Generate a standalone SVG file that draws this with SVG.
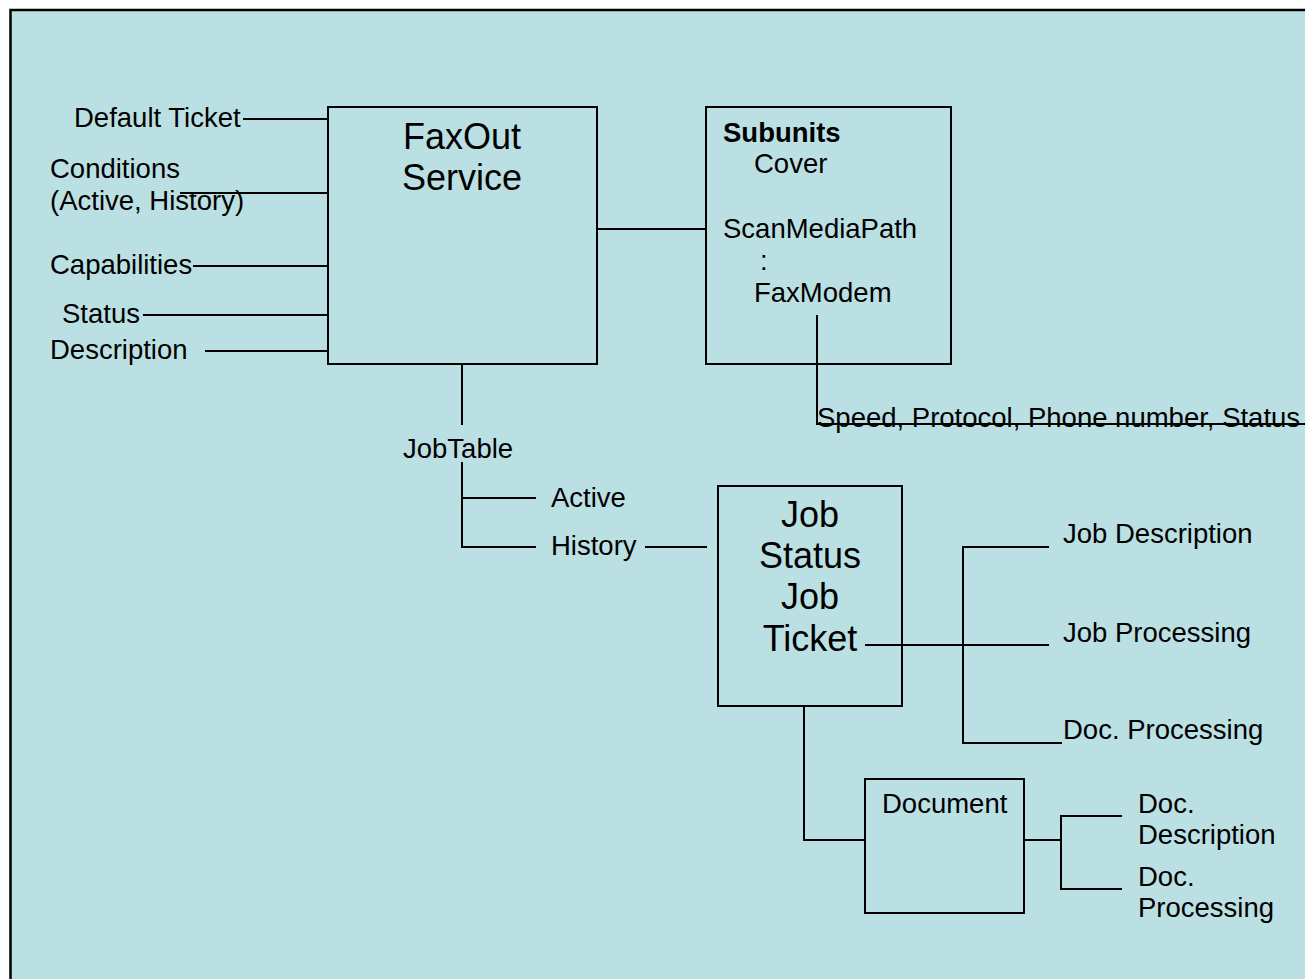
<svg xmlns="http://www.w3.org/2000/svg" width="1305" height="979" viewBox="0 0 1305 979">
  <style>
    .box { fill: none; stroke: #000; stroke-width: 2; }
    .wire { fill: none; stroke: #000; stroke-width: 2; }
    text { font-family: "Liberation Sans", Arial, sans-serif; font-size: 27.5px; fill: #000; }
    .big { font-size: 36px; text-anchor: middle; }
    .bold { font-weight: bold; }
  </style>

  <!-- page background and frame -->
  <rect x="0" y="0" width="1305" height="979" fill="#ffffff"/>
  <rect x="10.5" y="10" width="1400" height="1000" fill="#bbe0e3" stroke="#000" stroke-width="2.5"/>

  <!-- connectors -->
  <g id="connectors">
    <!-- attributes on the left of the service -->
    <path class="wire" d="M243 119H328"/>
    <path class="wire" d="M180 193H328"/>
    <path class="wire" d="M193 266H328"/>
    <path class="wire" d="M143 315H328"/>
    <path class="wire" d="M205 351H328"/>
    <!-- service to subunits -->
    <path class="wire" d="M597 229H706"/>
    <!-- fax modem details -->
    <path class="wire" d="M817 315V424H1305"/>
    <!-- service to job table -->
    <path class="wire" d="M462 364V425"/>
    <path class="wire" d="M462 462V547H536"/>
    <path class="wire" d="M462 498H536"/>
    <path class="wire" d="M645 547H707"/>
    <!-- job to its groups -->
    <path class="wire" d="M865 645H1049"/>
    <path class="wire" d="M1049 547H963V743H1062"/>
    <!-- job to document -->
    <path class="wire" d="M804 706V840H865"/>
    <path class="wire" d="M1024 840H1061"/>
    <path class="wire" d="M1122 816H1061V889H1122"/>
  </g>

  <!-- attribute labels -->
  <g id="service-attributes">
    <text x="74" y="127">Default Ticket</text>
    <text x="50" y="178">Conditions</text>
    <text x="50" y="210">(Active, History)</text>
    <text x="50" y="274">Capabilities</text>
    <text x="62" y="323">Status</text>
    <text x="50" y="359">Description</text>
  </g>

  <g id="faxout-service">
    <rect class="box" x="328" y="107" width="269" height="257"/>
    <text class="big" x="462" y="149">FaxOut</text>
    <text class="big" x="462" y="190">Service</text>
  </g>

  <g id="subunits">
    <rect class="box" x="706" y="107" width="245" height="257"/>
    <text class="bold" x="723" y="142">Subunits</text>
    <text x="754" y="173">Cover</text>
    <text x="723" y="238">ScanMediaPath</text>
    <text x="760" y="270">:</text>
    <text x="754" y="302">FaxModem</text>
  </g>

  <g id="modem-details">
    <text x="817" y="427">Speed, Protocol, Phone number, Status</text>
  </g>

  <g id="job-table">
    <text x="403" y="458">JobTable</text>
    <text x="551" y="507">Active</text>
    <text x="551" y="555">History</text>
  </g>

  <g id="job">
    <rect class="box" x="718" y="486" width="184" height="220"/>
    <text class="big" x="810" y="527">Job</text>
    <text class="big" x="810" y="568">Status</text>
    <text class="big" x="810" y="609">Job</text>
    <text class="big" x="810" y="651">Ticket</text>
  </g>

  <g id="job-groups">
    <text x="1063" y="543">Job Description</text>
    <text x="1063" y="642">Job Processing</text>
    <text x="1063" y="739">Doc. Processing</text>
  </g>

  <g id="document">
    <rect class="box" x="865" y="779" width="159" height="134"/>
    <text x="882" y="813">Document</text>
  </g>

  <g id="document-groups">
    <text x="1138" y="813">Doc.</text>
    <text x="1138" y="844">Description</text>
    <text x="1138" y="886">Doc.</text>
    <text x="1138" y="917">Processing</text>
  </g>
</svg>
